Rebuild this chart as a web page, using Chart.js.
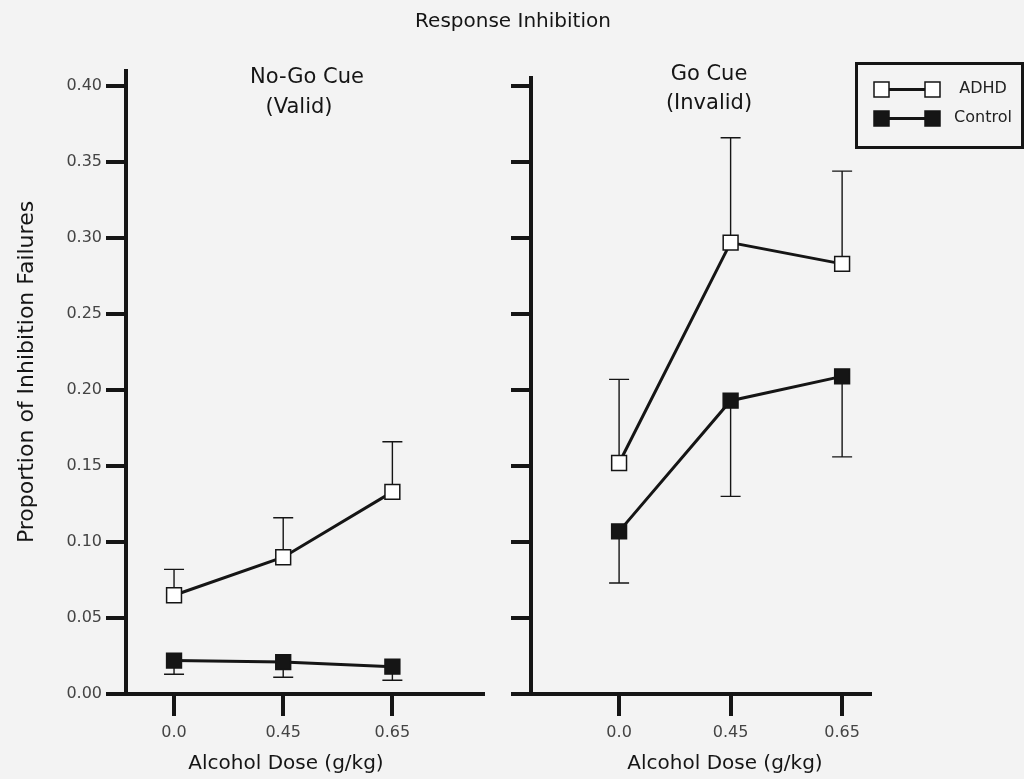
<!DOCTYPE html>
<html><head><meta charset="utf-8">
<script src="https://cdn.jsdelivr.net/npm/chart.js@4.4.1/dist/chart.umd.min.js"></script>
<style>
html,body{margin:0;padding:0;background:#f3f3f3;}
#wrap{position:relative;width:1024px;height:779px;overflow:hidden;}
canvas{position:absolute;left:0;top:0;}
</style></head><body>
<div id="wrap"><canvas id="c1" width="1024" height="779"></canvas><canvas id="c2" width="1024" height="779"></canvas></div>
<script>
// ---- data ----
const doseLabels = ['0.0', '0.45', '0.65'];
const yTickValues = [0, 0.05, 0.10, 0.15, 0.20, 0.25, 0.30, 0.35, 0.40];
const seriesNames = ['ADHD', 'Control'];
const noGoADHD = [0.065, 0.090, 0.133];
const noGoADHDSem = [0.017, 0.026, 0.033];
const noGoControl = [0.022, 0.021, 0.018];
const noGoControlSem = [0.009, 0.010, 0.009];
const goADHD = [0.152, 0.297, 0.283];
const goADHDSem = [0.055, 0.069, 0.061];
const goControl = [0.107, 0.193, 0.209];
const goControlSem = [0.034, 0.063, 0.053];

const FONT = 'DejaVu Sans';
const INK = '#151515';

function toPoints(vals) { return vals.map((v, i) => ({ x: i, y: v })); }

function makeDatasets(adhd, adhdSem, ctrl, ctrlSem) {
  const common = { borderColor: INK, borderWidth: 3, pointStyle: 'rect', pointRadius: 10.5,
    pointHoverRadius: 10.5, pointBorderColor: INK, pointBorderWidth: 1.5, tension: 0, clip: false };
  return [
    Object.assign({ label: seriesNames[0], data: toPoints(adhd), errors: adhdSem, errDir: 1,
      pointBackgroundColor: '#ffffff' }, common),
    Object.assign({ label: seriesNames[1], data: toPoints(ctrl), errors: ctrlSem, errDir: -1,
      pointBackgroundColor: INK }, common)
  ];
}

const errorBars = {
  id: 'errorBars',
  beforeDatasetsDraw(chart) {
    const { ctx, scales: { x, y } } = chart;
    ctx.save();
    ctx.strokeStyle = INK; ctx.lineWidth = 1.4;
    chart.data.datasets.forEach(ds => {
      ds.data.forEach((p, i) => {
        const px = x.getPixelForValue(p.x);
        const y0 = y.getPixelForValue(p.y);
        const y1 = y.getPixelForValue(p.y + ds.errDir * ds.errors[i]);
        ctx.beginPath();
        ctx.moveTo(px, y0); ctx.lineTo(px, y1);
        ctx.moveTo(px - 10, y1); ctx.lineTo(px + 10, y1);
        ctx.stroke();
      });
    });
    ctx.restore();
  }
};

function textPlugin(items) {
  return {
    id: 'texts',
    afterDraw(chart) {
      const ctx = chart.ctx;
      items.forEach(t => {
        ctx.save();
        ctx.font = t.size + 'px "' + FONT + '"';
        ctx.fillStyle = INK;
        ctx.textAlign = 'center';
        ctx.textBaseline = 'middle';
        ctx.translate(t.x, t.y);
        if (t.rot) ctx.rotate(t.rot);
        ctx.fillText(t.text, 0, 0);
        ctx.restore();
      });
    }
  };
}

const legendBox = {
  id: 'legendBox',
  afterDraw(chart) {
    const ctx = chart.ctx;
    ctx.save();
    ctx.strokeStyle = INK; ctx.lineWidth = 3;
    ctx.strokeRect(856.5, 63.5, 166, 84);
    chart.data.datasets.forEach((ds, i) => {
      const cy = 89.5 + i * 29;
      ctx.lineWidth = 3; ctx.strokeStyle = INK;
      ctx.beginPath(); ctx.moveTo(882, cy); ctx.lineTo(932, cy); ctx.stroke();
      [881.5, 932.5].forEach(cx => {
        ctx.fillStyle = ds.pointBackgroundColor;
        ctx.fillRect(cx - 7.5, cy - 7.5, 15, 15);
        ctx.lineWidth = 1.5;
        ctx.strokeRect(cx - 7.5, cy - 7.5, 15, 15);
      });
      ctx.fillStyle = '#222';
      ctx.font = '16px "' + FONT + '"';
      ctx.textAlign = 'center'; ctx.textBaseline = 'middle';
      ctx.fillText(ds.label, 983, cy - 1);
    });
    ctx.restore();
  }
};

function yAxis(max, width, showLabels) {
  return {
    type: 'linear', min: 0, max: max,
    afterBuildTicks: s => { s.ticks = yTickValues.map(v => ({ value: v })); },
    afterFit: s => { s.width = width; },
    ticks: { display: showLabels, padding: 4, color: '#444', font: { family: FONT, size: 16 },
      callback: v => Number(v).toFixed(2) },
    grid: { drawOnChartArea: false, drawTicks: true, tickLength: 20, lineWidth: 4, color: INK },
    border: { display: true, width: 4, color: INK }
  };
}

function xAxis(min, max) {
  return {
    type: 'linear', min: min, max: max,
    afterBuildTicks: s => { s.ticks = doseLabels.map((_, i) => ({ value: i })); },
    afterFit: s => { s.height = 85; },
    ticks: { padding: 7, color: '#444', font: { family: FONT, size: 16 },
      callback: v => doseLabels[v] },
    grid: { drawOnChartArea: false, drawTicks: true, tickLength: 22, lineWidth: 4, color: INK },
    border: { display: true, width: 4, color: INK }
  };
}

const baseOpts = { responsive: false, animation: false, events: [] };

new Chart(document.getElementById('c1'), {
  type: 'line',
  data: { datasets: makeDatasets(noGoADHD, noGoADHDSem, noGoControl, noGoControlSem) },
  options: Object.assign({}, baseOpts, {
    layout: { padding: { left: 0, right: 541, top: 71, bottom: 0 } },
    scales: { x: xAxis(-0.44, 2.83), y: yAxis(0.41, 126, true) },
    plugins: { legend: { display: false }, tooltip: { enabled: false }, title: { display: false } }
  }),
  plugins: [errorBars, textPlugin([
    { text: 'Response Inhibition', x: 513, y: 22, size: 20 },
    { text: 'No-Go Cue', x: 307, y: 78, size: 21 },
    { text: '(Valid)', x: 299, y: 108, size: 21 },
    { text: 'Alcohol Dose (g/kg)', x: 286, y: 764, size: 20 },
    { text: 'Proportion of Inhibition Failures', x: 27, y: 372, size: 22, rot: -Math.PI / 2 }
  ])]
});

new Chart(document.getElementById('c2'), {
  type: 'line',
  data: { datasets: makeDatasets(goADHD, goADHDSem, goControl, goControlSem) },
  options: Object.assign({}, baseOpts, {
    layout: { padding: { left: 0, right: 154, top: 78, bottom: 0 } },
    scales: { x: xAxis(-0.79, 2.25), y: yAxis(0.4053, 531, false) },
    plugins: { legend: { display: false }, tooltip: { enabled: false }, title: { display: false } }
  }),
  plugins: [errorBars, legendBox, textPlugin([
    { text: 'Go Cue', x: 709, y: 75, size: 21 },
    { text: '(Invalid)', x: 709, y: 104, size: 21 },
    { text: 'Alcohol Dose (g/kg)', x: 725, y: 764, size: 20 }
  ])]
});
</script>
</body></html>
